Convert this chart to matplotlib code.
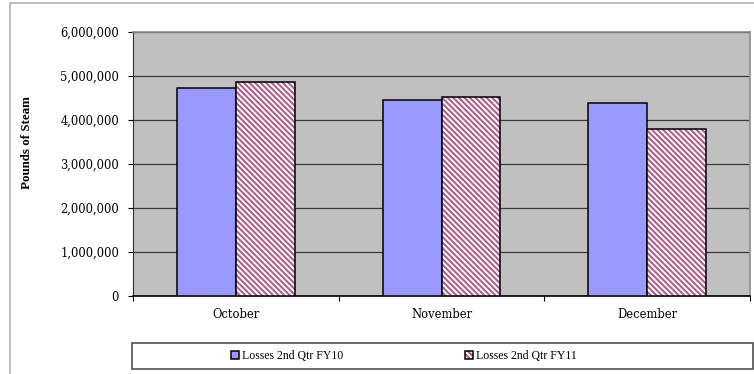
import matplotlib.pyplot as plt
import matplotlib.ticker as mticker
from matplotlib.patches import Rectangle
from matplotlib.legend_handler import HandlerTuple
import numpy as np

# Perdas de vapor por mês - 2º trimestre
meses = ['October', 'November', 'December']
perdas_fy10 = [4720000, 4450000, 4390000]
perdas_fy11 = [4860000, 4520000, 3800000]
series = ['Losses 2nd Qtr FY10', 'Losses 2nd Qtr FY11']

plt.rcParams['font.family'] = ['Liberation Serif', 'DejaVu Serif']
plt.rcParams['hatch.linewidth'] = 1.5

cor_hachura = '#b0608a'

fig = plt.figure(figsize=(7.54, 3.74), dpi=100)
ax = fig.add_axes([133/754, 1-296/374, 617/754, 264/374])
ax.set_facecolor('#c0c0c0')

x = np.arange(len(meses))
w = 0.2857
b10 = ax.bar(x - w/2, perdas_fy10, w, color='#9999ff', edgecolor='black', linewidth=1.1, zorder=3)
# hachura em vinho e contorno preto desenhados em camadas separadas
b11 = ax.bar(x + w/2, perdas_fy11, w, color='white', edgecolor=cor_hachura, linewidth=0, hatch='\\\\\\\\\\\\', zorder=3)
b11c = ax.bar(x + w/2, perdas_fy11, w, fill=False, edgecolor='black', linewidth=1.1, zorder=4)

ax.set_xlim(-0.5, 2.5)
ax.set_ylim(0, 6000000)
ax.yaxis.set_major_locator(mticker.MultipleLocator(1000000))
ax.yaxis.set_major_formatter(mticker.FuncFormatter(lambda v, p: f'{int(v):,}'))
ax.grid(axis='y', color='#3c3c3c', linewidth=0.9, zorder=1)
ax.set_axisbelow(True)

ax.set_xticks(x)
ax.set_xticklabels(meses, family='DejaVu Serif', fontsize=8.3)
ax.set_xticks(np.arange(-0.5, 3, 1), minor=True)
ax.tick_params(axis='x', which='major', length=0, pad=9)
ax.tick_params(axis='x', which='minor', length=3.6, width=0.8, direction='out')
ax.tick_params(axis='y', length=3.6, width=0.8, pad=6.5)
for t in ax.get_yticklabels():
    t.set_family('DejaVu Serif')
    t.set_fontsize(8.3)

for lado in ['top', 'right']:
    ax.spines[lado].set_color('#8c8c8c')
    ax.spines[lado].set_linewidth(1.2)
ax.spines['left'].set_color('#303030')
ax.spines['bottom'].set_color('black')
ax.spines['bottom'].set_linewidth(1.2)

ax.set_ylabel('Pounds of Steam', fontsize=9.4, fontweight='bold')
ax.yaxis.set_label_coords(-(133-33)/617, 0.58)

# moldura externa do gráfico
fig.add_artist(Rectangle((10/754, -0.1), 1.1, 1 - 3/374 + 0.1, transform=fig.transFigure,
                         fill=False, edgecolor='#b0b0b0', linewidth=1.2))

# caixa da legenda
fig.add_artist(Rectangle((131.5/754, 1-369/374), (753-131.5)/754, 26/374, transform=fig.transFigure,
                         fill=False, edgecolor='#505050', linewidth=1.2))
fig.legend([b10, (b11, b11c)], series, loc='center', bbox_to_anchor=(404/754, 1-356/374), ncol=2,
           frameon=False, fontsize=8.5, handlelength=0.7, handleheight=0.7,
           handletextpad=0.25, columnspacing=10.3, borderaxespad=0, borderpad=0,
           handler_map={tuple: HandlerTuple(ndivide=1)})

fig.savefig('out.png', dpi=100)
